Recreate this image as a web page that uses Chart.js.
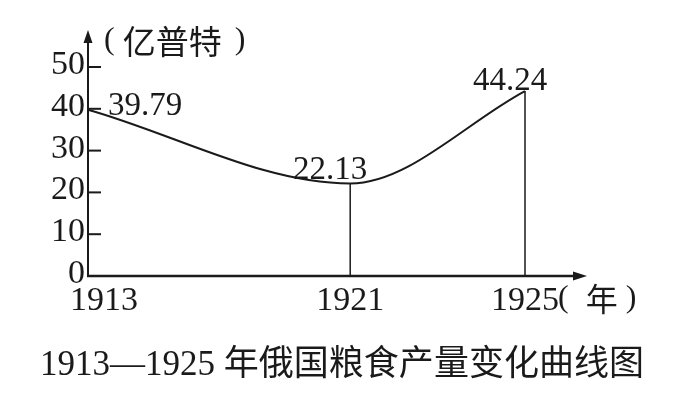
<!DOCTYPE html>
<html>
<head>
<meta charset="utf-8">
<script src="https://cdn.jsdelivr.net/npm/chart.js@4.4.1/dist/chart.umd.min.js"></script>
<style>
  html, body { margin: 0; padding: 0; background: #fff; }
  #wrap { width: 678px; height: 393px; }
</style>
</head>
<body>
<div id="wrap"><canvas id="chart" width="678" height="393"></canvas></div>
<script>
// ===== DATA =====
// unlabeled slots keep the uneven spacing of the printed axis
const years = ['1913', '', '', '1921', '', '1925'];
const grain = [39.79, null, null, 22.13, null, 44.24];
const yTicks = [0, 10, 20, 30, 40, 50];
const yUnit = '亿普特';
const xUnit = '年';
const caption = '1913—1925 年俄国粮食产量变化曲线图';

// ===== STYLE =====
const INK = '#1a1a1a';
const SERIF = '"Liberation Serif", "Times New Roman", serif';
const CJK = '"Noto Sans CJK SC", sans-serif';
// value label placement per point: [dx, dy, align]
const labelPlace = [[20, -3, 'left'], null, null, [-20, -13, 'center'], null, [-15, -10, 'center']];

// draw "(text)" with serif parens around CJK text
function drawUnit(ctx, text, left, midY, cjkSize, gapL, gapR) {
  ctx.textAlign = 'left';
  ctx.textBaseline = 'middle';
  ctx.font = '32px ' + SERIF;
  ctx.fillText('(', left, midY);
  let cx = left + ctx.measureText('(').width + gapL;
  ctx.font = cjkSize + 'px ' + CJK;
  ctx.fillText(text, cx, midY);
  cx += ctx.measureText(text).width + gapR;
  ctx.font = '32px ' + SERIF;
  ctx.fillText(')', cx, midY);
}

// ===== AXES / LABELS PLUGIN =====
const sketchPlugin = {
  id: 'sketch',
  afterDatasetsDraw(chart) {
    const { ctx, chartArea, scales: { x, y } } = chart;
    const x0 = x.getPixelForValue(0);
    const y0 = y.getPixelForValue(0);
    const meta = chart.getDatasetMeta(0);

    ctx.save();
    ctx.strokeStyle = INK;
    ctx.fillStyle = INK;

    // drop lines from each point to the x axis
    ctx.lineWidth = 1.5;
    meta.data.forEach((pt, i) => {
      if (grain[i] === null || i === 0) return;
      ctx.beginPath();
      ctx.moveTo(pt.x, pt.y);
      ctx.lineTo(pt.x, y0);
      ctx.stroke();
    });

    // y axis with arrow
    const yTip = chartArea.top - 37;
    ctx.lineWidth = 2;
    ctx.beginPath();
    ctx.moveTo(x0, y0 + 1);
    ctx.lineTo(x0, yTip + 8);
    ctx.stroke();
    ctx.beginPath();
    ctx.moveTo(x0, yTip);
    ctx.lineTo(x0 - 4.5, yTip + 13);
    ctx.lineTo(x0 + 4.5, yTip + 13);
    ctx.closePath();
    ctx.fill();

    // x axis with arrow
    const xTip = chartArea.right + 62;
    ctx.lineWidth = 2.5;
    ctx.beginPath();
    ctx.moveTo(x0 - 1, y0);
    ctx.lineTo(xTip - 8, y0);
    ctx.stroke();
    ctx.beginPath();
    ctx.moveTo(xTip, y0);
    ctx.lineTo(xTip - 14, y0 - 4.5);
    ctx.lineTo(xTip - 14, y0 + 4.5);
    ctx.closePath();
    ctx.fill();

    // y ticks (inside) and labels
    ctx.lineWidth = 2;
    ctx.font = '34px ' + SERIF;
    ctx.textAlign = 'right';
    ctx.textBaseline = 'middle';
    yTicks.forEach(v => {
      const py = y.getPixelForValue(v);
      if (v !== 0) {
        ctx.beginPath();
        ctx.moveTo(x0, py);
        ctx.lineTo(x0 + 13, py);
        ctx.stroke();
      }
      ctx.fillText(String(v), x0 - 3, py - 2);
    });

    // x labels
    ctx.textAlign = 'center';
    let lastX = 0;
    years.forEach((lab, i) => {
      if (!lab) return;
      const px = x.getPixelForValue(i) + (i === 0 ? 16 : 0);
      ctx.fillText(lab, px, y0 + 25);
      lastX = px;
    });

    // value labels
    ctx.font = '33px ' + SERIF;
    meta.data.forEach((pt, i) => {
      const place = labelPlace[i];
      if (grain[i] === null || !place) return;
      ctx.textAlign = place[2];
      ctx.fillText(grain[i].toFixed(2), pt.x + place[0], pt.y + place[1]);
    });

    // units
    drawUnit(ctx, xUnit, lastX + 33, y0 + 23, 32, 17, 8);
    drawUnit(ctx, yUnit, x0 + 16, yTip + 11, 33, 8, 13);

    // caption
    ctx.font = '35px ' + SERIF + ', ' + CJK;
    ctx.textAlign = 'center';
    ctx.fillText(caption, 342, 366);

    ctx.restore();
  }
};

// ===== CHART =====
const chart = new Chart(document.getElementById('chart'), {
  type: 'line',
  data: {
    labels: years,
    datasets: [{
      data: grain,
      borderColor: INK,
      borderWidth: 2,
      pointRadius: 0,
      fill: false,
      spanGaps: true,
      cubicInterpolationMode: 'monotone'
    }]
  },
  options: {
    responsive: false,
    animation: false,
    devicePixelRatio: 1,
    layout: { padding: { left: 88, right: 153, top: 67, bottom: 117 } },
    plugins: { legend: { display: false }, tooltip: { enabled: false } },
    scales: {
      x: { type: 'category', offset: false, display: false },
      y: { min: 0, max: 50, display: false }
    }
  },
  plugins: [sketchPlugin]
});
</script>
</body>
</html>
